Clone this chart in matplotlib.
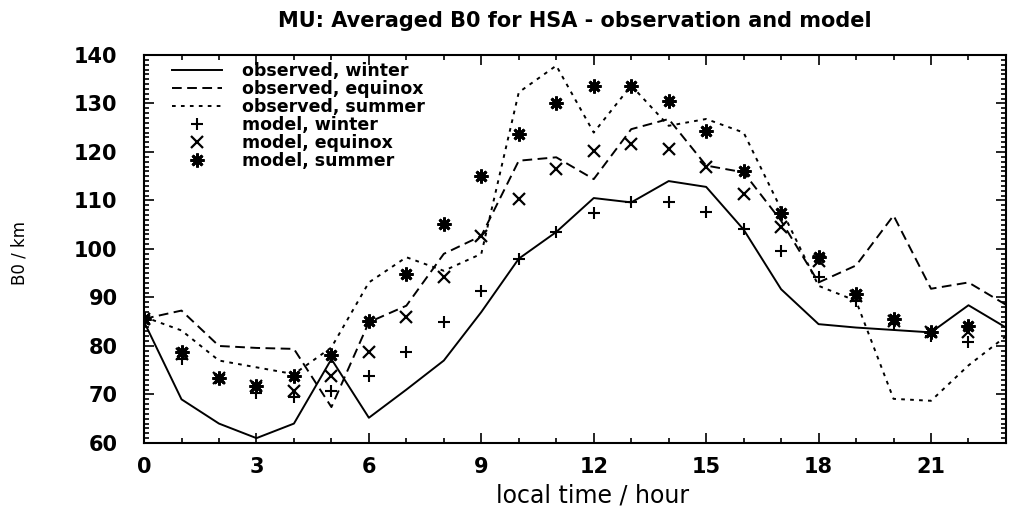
import matplotlib
matplotlib.use("Agg")
import matplotlib.pyplot as plt
from matplotlib.ticker import MultipleLocator

hours = list(range(24))
obs_winter = [85, 69, 64, 61, 64, 77.3, 65.2, 71, 77, 87, 98, 103.5, 110.5, 109.6, 114, 112.8,
              104, 91.7, 84.5, 83.8, 83.3, 82.8, 88.4, 83.8]
obs_equinox = [85.6, 87.3, 80, 79.6, 79.4, 67.4, 84.9, 88.3, 99, 102.7, 118.2, 118.9, 114.4, 124.7,
               126.8, 117.2, 115.8, 105.8, 93.1, 96.6, 106.9, 91.8, 93.1, 88.5]
obs_summer = [86, 83.2, 77, 75.6, 74.2, 79.7, 93.1, 98.3, 95.5, 99, 132.3, 137.8, 124, 133.7,
              125.4, 126.8, 124, 108.2, 92.4, 89.3, 69.1, 68.7, 76, 82]

model_hours = list(range(23))
mod_winter = [85.3, 77.3, 73.2, 70.4, 69.4, 70.8, 73.9, 78.7, 84.9, 91.4, 97.9, 103.4, 107.4, 109.6,
              109.6, 107.7, 104.1, 99.6, 94.2, 89.3, 84.5, 82.1, 80.8]
mod_equinox = [85.5, 78.4, 73.5, 71.8, 70.8, 73.9, 78.7, 85.9, 94.2, 102.7, 110.3, 116.5, 120.3,
               121.6, 120.6, 116.8, 111.3, 104.5, 97.6, 90.4, 85.2, 82.8, 82.8]
mod_summer = [85.6, 78.7, 73.5, 71.8, 73.9, 78.1, 85.2, 94.8, 105.2, 115.1, 123.7, 130.2, 133.7,
              133.7, 130.6, 124.4, 116.1, 107.5, 98.3, 90.7, 85.6, 82.8, 84.2]

title = "MU: Averaged B0 for HSA - observation and model"
xlabel = "local time / hour"
ylabel = "B0 / km"

plt.rcParams['font.family'] = ['DejaVu Sans']

fig = plt.figure(figsize=(10.1, 5.09), dpi=100)
ax = fig.add_axes([0.1426, 0.1297, 0.8534, 0.7623])

lw = 1.4
ax.plot(hours, obs_winter, color='black', lw=lw, ls='-', label='observed, winter')
ax.plot(hours, obs_equinox, color='black', lw=lw, ls=(0, (5, 2.8)), label='observed, equinox')
ax.plot(hours, obs_summer, color='black', lw=lw, ls=(0, (1.9, 2.7)), label='observed, summer')
ax.plot(model_hours, mod_winter, ls='none', marker='+', ms=9, mew=1.5, color='black',
        label='model, winter')
ax.plot(model_hours, mod_equinox, ls='none', marker='x', ms=8.5, mew=1.6, color='black',
        label='model, equinox')
ax.plot(model_hours, mod_summer, ls='none', marker=(8, 2, 0), ms=10, mew=2.0, color='black',
        label='model, summer')

ax.set_xlim(0, 23)
ax.set_ylim(60, 140)
ax.xaxis.set_major_locator(MultipleLocator(3))
ax.xaxis.set_minor_locator(MultipleLocator(1))
ax.yaxis.set_major_locator(MultipleLocator(10))
ax.yaxis.set_minor_locator(MultipleLocator(1))
ax.tick_params(which='both', direction='in', top=True, right=True, width=1.2)
ax.tick_params(which='major', length=7)
ax.tick_params(which='minor', length=3.5)
ax.tick_params(axis='x', which='major', pad=10)
ax.tick_params(axis='y', which='major', pad=19)
for lab in ax.get_xticklabels() + ax.get_yticklabels():
    lab.set_fontsize(15)
    lab.set_fontweight('bold')
for sp in ax.spines.values():
    sp.set_linewidth(1.5)

ax.set_title(title, fontsize=15, fontweight='bold', pad=20)
ax.set_xlabel(xlabel, fontsize=17, x=0.52)
ax.xaxis.set_label_coords(0.52, -0.105)
ax.set_ylabel(ylabel, fontsize=12)
ax.yaxis.set_label_coords(-0.134, 0.49)

leg = ax.legend(loc='upper left', bbox_to_anchor=(0.016, 1.017), frameon=False,
                prop={'size': 12.5, 'weight': 'bold'}, handlelength=2.9,
                labelspacing=0.0, handletextpad=1.15, borderpad=0.3)

fig.savefig("out.png", dpi=100)
